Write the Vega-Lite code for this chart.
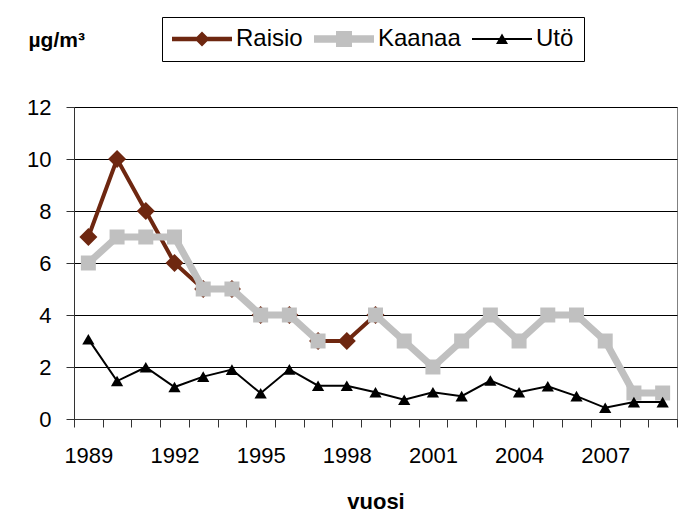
{
  "$schema": "https://vega.github.io/schema/vega-lite/v6.json",
  "width": 603,
  "height": 312,
  "autosize": {"type": "none"},
  "padding": {"left": 74, "top": 107, "right": 8, "bottom": 99},
  "background": "white",
  "config": {
    "font": "Liberation Sans",
    "view": {"stroke": "#808080", "strokeWidth": 1},
    "axis": {"labelFont": "Liberation Sans", "titleFont": "Liberation Sans", "labelColor": "black", "titleColor": "black"}
  },
  "data": {
    "values": [
      {"year": 1989, "series": "Raisio", "value": 7},
      {"year": 1990, "series": "Raisio", "value": 10},
      {"year": 1991, "series": "Raisio", "value": 8},
      {"year": 1992, "series": "Raisio", "value": 6},
      {"year": 1993, "series": "Raisio", "value": 5},
      {"year": 1994, "series": "Raisio", "value": 5},
      {"year": 1995, "series": "Raisio", "value": 4},
      {"year": 1996, "series": "Raisio", "value": 4},
      {"year": 1997, "series": "Raisio", "value": 3},
      {"year": 1998, "series": "Raisio", "value": 3},
      {"year": 1999, "series": "Raisio", "value": 4},
      {"year": 1989, "series": "Kaanaa", "value": 6},
      {"year": 1990, "series": "Kaanaa", "value": 7},
      {"year": 1991, "series": "Kaanaa", "value": 7},
      {"year": 1992, "series": "Kaanaa", "value": 7},
      {"year": 1993, "series": "Kaanaa", "value": 5},
      {"year": 1994, "series": "Kaanaa", "value": 5},
      {"year": 1995, "series": "Kaanaa", "value": 4},
      {"year": 1996, "series": "Kaanaa", "value": 4},
      {"year": 1997, "series": "Kaanaa", "value": 3},
      {"year": 1998, "series": "Kaanaa", "value": null},
      {"year": 1999, "series": "Kaanaa", "value": 4},
      {"year": 2000, "series": "Kaanaa", "value": 3},
      {"year": 2001, "series": "Kaanaa", "value": 2},
      {"year": 2002, "series": "Kaanaa", "value": 3},
      {"year": 2003, "series": "Kaanaa", "value": 4},
      {"year": 2004, "series": "Kaanaa", "value": 3},
      {"year": 2005, "series": "Kaanaa", "value": 4},
      {"year": 2006, "series": "Kaanaa", "value": 4},
      {"year": 2007, "series": "Kaanaa", "value": 3},
      {"year": 2008, "series": "Kaanaa", "value": 1},
      {"year": 2009, "series": "Kaanaa", "value": 1},
      {"year": 1989, "series": "Utö", "value": 3.07},
      {"year": 1990, "series": "Utö", "value": 1.46},
      {"year": 1991, "series": "Utö", "value": 1.99},
      {"year": 1992, "series": "Utö", "value": 1.23},
      {"year": 1993, "series": "Utö", "value": 1.63},
      {"year": 1994, "series": "Utö", "value": 1.9},
      {"year": 1995, "series": "Utö", "value": 0.99},
      {"year": 1996, "series": "Utö", "value": 1.91},
      {"year": 1997, "series": "Utö", "value": 1.28},
      {"year": 1998, "series": "Utö", "value": 1.28},
      {"year": 1999, "series": "Utö", "value": 1.03},
      {"year": 2000, "series": "Utö", "value": 0.74},
      {"year": 2001, "series": "Utö", "value": 1.03},
      {"year": 2002, "series": "Utö", "value": 0.88},
      {"year": 2003, "series": "Utö", "value": 1.48},
      {"year": 2004, "series": "Utö", "value": 1.03},
      {"year": 2005, "series": "Utö", "value": 1.26},
      {"year": 2006, "series": "Utö", "value": 0.88},
      {"year": 2007, "series": "Utö", "value": 0.43},
      {"year": 2008, "series": "Utö", "value": 0.65},
      {"year": 2009, "series": "Utö", "value": 0.65}
    ]
  },
  "encoding": {
    "x": {
      "field": "year",
      "type": "ordinal",
      "scale": {"type": "band", "paddingInner": 0, "paddingOuter": 0},
      "axis": {
        "title": "vuosi",
        "titleFontSize": 22,
        "titleFontWeight": "bold",
        "titleX": 301.5,
        "titleY": 89,
        "titleBaseline": "alphabetic",
        "labelAngle": 0,
        "labelFontSize": 22,
        "labelBaseline": "alphabetic",
        "labelPadding": 35,
        "labelExpr": "(datum.value - 1989) % 3 === 0 ? datum.value : ''",
        "tickBand": "extent",
        "tickSize": 8,
        "tickColor": "#333333",
        "domainColor": "#333333",
        "grid": false
      }
    },
    "y": {
      "field": "value",
      "type": "quantitative",
      "scale": {"domain": [0, 12], "nice": false, "zero": true},
      "axis": {
        "values": [0, 2, 4, 6, 8, 10, 12],
        "title": "µg/m³",
        "titleAngle": 0,
        "titleFontSize": 21,
        "titleFontWeight": "bold",
        "titleAlign": "left",
        "titleBaseline": "alphabetic",
        "titleX": -46,
        "titleY": -61,
        "labelFontSize": 22,
        "labelPadding": 15,
        "tickSize": 8,
        "tickColor": "#333333",
        "domainColor": "#333333",
        "grid": true,
        "gridColor": "black",
        "gridOpacity": 1
      }
    },
    "color": {
      "field": "series",
      "type": "nominal",
      "scale": {"domain": ["Raisio", "Kaanaa", "Utö"], "range": ["#6E2710", "#C0C0C0", "#000000"]},
      "legend": {
        "title": null,
        "orient": "none",
        "legendX": 88,
        "legendY": -90,
        "direction": "horizontal",
        "strokeColor": "black",
        "fillColor": "white",
        "padding": 10,
        "symbolSize": 400,
        "symbolOffset": 18,
        "labelOffset": 22,
        "columnPadding": 11,
        "labelFontSize": 24,
        "labelFont": "Liberation Sans",
        "labelColor": "black",
        "labelLimit": 200,
        "encode": {
          "symbols": {
            "update": {
              "strokeWidth": {"value": 0},
              "opacity": {"value": 1},
              "fillOpacity": {"value": 1}
            }
          }
        }
      }
    }
  },
  "layer": [
    {
      "transform": [{"filter": "datum.series === 'Raisio'"}],
      "mark": {"type": "line", "strokeWidth": 4}
    },
    {
      "transform": [{"filter": "datum.series === 'Raisio'"}],
      "mark": {"type": "point", "filled": true, "opacity": 1, "size": 324, "shape": "diamond"}
    },
    {
      "transform": [{"filter": "datum.series === 'Kaanaa'"}],
      "mark": {"type": "line", "strokeWidth": 7, "invalid": "break-paths-show-domains"}
    },
    {
      "transform": [{"filter": "datum.series === 'Kaanaa' && isValid(datum.value)"}],
      "mark": {"type": "point", "filled": true, "opacity": 1, "size": 225, "shape": "square"}
    },
    {
      "transform": [{"filter": "datum.series === 'Utö'"}],
      "mark": {"type": "line", "strokeWidth": 2}
    },
    {
      "transform": [{"filter": "datum.series === 'Utö'"}],
      "mark": {"type": "point", "filled": true, "opacity": 1, "size": 150, "shape": "triangle-up"}
    },
    {
      "transform": [{"filter": "datum.value > 100"}],
      "mark": {"type": "point", "filled": true, "opacity": 1},
      "encoding": {
        "shape": {
          "field": "series",
          "type": "nominal",
          "scale": {
            "domain": ["Raisio", "Kaanaa", "Utö"],
            "range": [
              "M-3,-0.22H3V0.22H-3ZM0,-0.75L0.75,0L0,0.75L-0.75,0Z",
              "M-3,-0.37H3V0.37H-3ZM-0.8,-0.8H0.8V0.8H-0.8Z",
              "M-3,-0.1H3V0.1H-3ZM0,-0.55L0.6,0.5L-0.6,0.5Z"
            ]
          }
        }
      }
    }
  ]
}
